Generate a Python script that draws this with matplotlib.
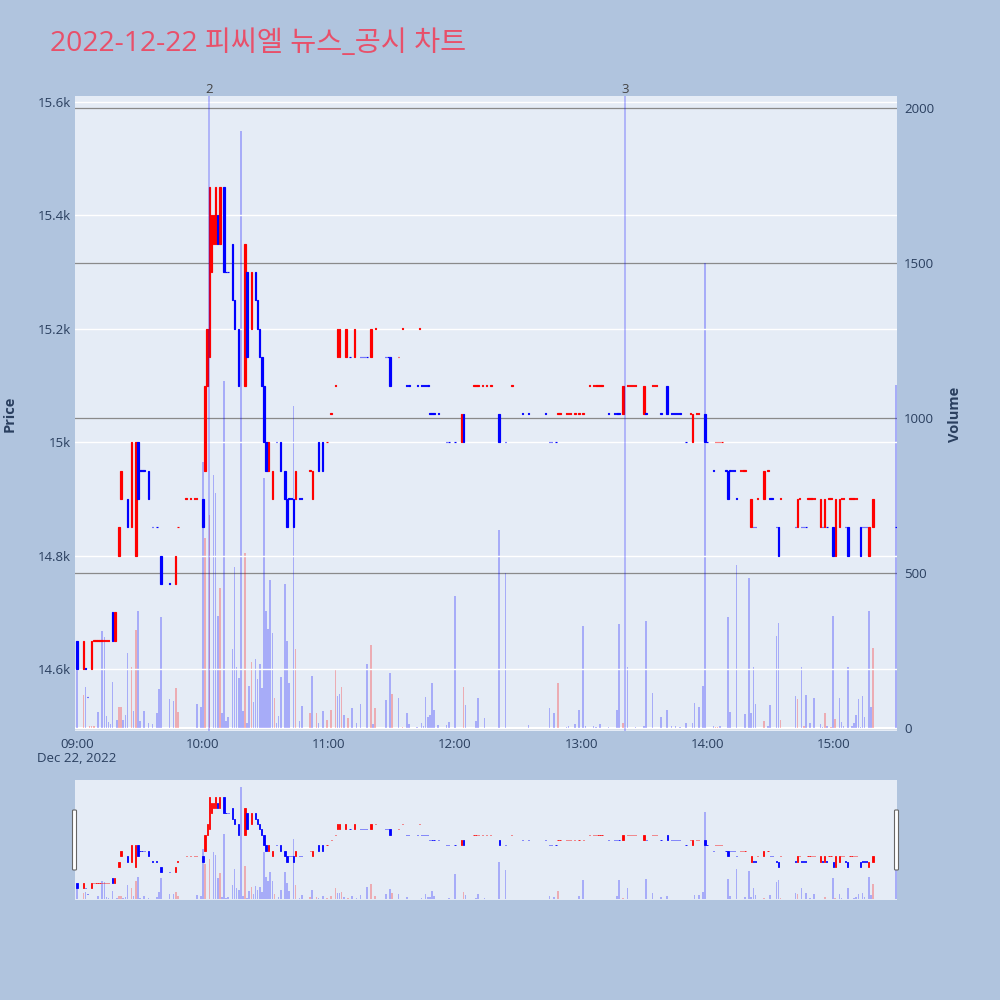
import numpy as np
import pandas as pd
import matplotlib
matplotlib.use('Agg')
import matplotlib.pyplot as plt
import matplotlib.dates as mdates
import matplotlib.transforms as mtransforms
from matplotlib.patches import FancyBboxPatch

plt.rcParams['font.family'] = ['Open Sans', 'Noto Sans CJK KR', 'DejaVu Sans']

title = '2022-12-22 피씨엘 뉴스_공시 차트'
day_start = pd.Timestamp('2022-12-22 09:00')

# one-minute candles, minutes after 09:00 (minutes with no trade are left out)
cand_min = [0, 3, 4, 5, 7, 8, 9, 10, 11, 12, 13, 14, 15, 17, 18, 20, 21, 24, 26, 28, 29, 30, 31, 32, 34, 36, 38, 40, 44, 47, 48, 52, 54, 56, 57, 60,
            61, 62, 63, 64, 65, 66, 67, 68, 70, 71, 72, 74, 75, 77, 80, 81, 83, 85, 86, 87, 88, 89, 90, 91, 93, 95, 97, 99, 100, 101, 102, 103, 104, 106, 107, 111, 112, 115, 117, 119,
            121, 123, 124, 125, 128, 130, 132, 135, 136, 137, 138, 140, 142, 147, 148, 149, 153, 155, 157, 158, 162, 163, 164, 165, 166, 167, 168, 169, 170, 172, 176, 177, 180,
            183, 184, 189, 190, 191, 193, 195, 197, 201, 204, 207, 212, 215, 223, 225, 226, 228, 229, 230, 233, 234, 235, 237, 239, 241,
            244, 246, 247, 248, 249, 250, 253, 256, 257, 258, 260, 262, 263, 264, 265, 266, 270, 271, 274, 275, 276, 278, 281, 283, 284, 285, 286, 287, 290, 292, 293, 295, 296, 299,
            300, 303, 304, 305, 306, 307, 309, 310, 311, 312, 313, 314, 316, 317, 318, 321, 322, 323, 324, 327, 329, 330, 331, 333, 334, 335, 342, 343, 344, 345, 346, 347, 348, 349, 350, 351, 354, 355, 356, 357, 358, 359,
            360, 361, 363, 364, 365, 366, 367, 368, 369, 370, 371, 373, 374, 375, 376, 377, 379, 390]
cand_open = [14650, 14600, 14600, 14550, 14600, 14650, 14650, 14650, 14650, 14650, 14650, 14650, 14650, 14700, 14650, 14800, 14900, 14900, 14850, 14800, 15000, 14950, 14950, 14950, 14950, 14850, 14850, 14800, 14750, 14750, 14850, 14900, 14900, 14900, 14900, 14900,
             14950, 15100, 15150, 15300, 15350, 15350, 15400, 15350, 15450, 15300, 15300, 15350, 15250, 15200, 15100, 15300, 15200, 15300, 15250, 15200, 15150, 15100, 15000, 14950, 14900, 15000, 15000, 14950, 14900, 14900, 14900, 14900, 14900, 14900, 14900, 14950, 14900, 15000, 15000, 15000,
             15050, 15100, 15150, 15150, 15150, 15150, 15150, 15150, 15150, 15150, 15150, 15150, 15200, 15150, 15150, 15150, 15150, 15200, 15100, 15100, 15100, 15200, 15100, 15100, 15100, 15100, 15050, 15050, 15050, 15050, 15000, 15000, 15000,
             15000, 15050, 15100, 15100, 15100, 15100, 15100, 15100, 15050, 15000, 15100, 15050, 15050, 15050, 15000, 15000, 15000, 15050, 15050, 15050, 15050, 15050, 15050, 15050, 15050,
             15100, 15100, 15100, 15100, 15100, 15100, 15050, 15050, 15050, 15050, 15050, 15100, 15100, 15100, 15100, 15100, 15050, 15050, 15100, 15100, 15100, 15050, 15100, 15050, 15050, 15050, 15050, 15050, 15000, 15050, 15000, 15050, 15050, 15050,
             15000, 14950, 15000, 15000, 15000, 15000, 14950, 14950, 14950, 14950, 14950, 14900, 14950, 14950, 14950, 14850, 14850, 14850, 14900, 14900, 14950, 14900, 14900, 14850, 14850, 14900, 14850, 14850, 14900, 14850, 14850, 14850, 14900, 14900, 14900, 14900, 14850, 14850, 14850, 14850, 14900, 14900,
             14850, 14800, 14850, 14900, 14900, 14850, 14850, 14900, 14900, 14900, 14900, 14850, 14850, 14850, 14850, 14800, 14850, 14850]
cand_close = [14600, 14650, 14600, 14550, 14650, 14650, 14650, 14650, 14650, 14650, 14650, 14650, 14650, 14650, 14700, 14850, 14950, 14850, 15000, 15000, 14900, 14950, 14950, 14950, 14900, 14850, 14850, 14750, 14750, 14800, 14850, 14900, 14900, 14900, 14900, 14850,
              15100, 15200, 15450, 15400, 15400, 15450, 15350, 15450, 15300, 15300, 15300, 15250, 15200, 15100, 15350, 15150, 15300, 15250, 15200, 15150, 15100, 15000, 14950, 15000, 14950, 15000, 14950, 14900, 14850, 14900, 14900, 14850, 14950, 14900, 14900, 14950, 14950, 14950, 14950, 15000,
              15050, 15100, 15200, 15200, 15200, 15150, 15200, 15150, 15150, 15150, 15150, 15200, 15200, 15150, 15150, 15100, 15150, 15200, 15100, 15100, 15100, 15200, 15100, 15100, 15100, 15100, 15050, 15050, 15050, 15050, 15000, 15000, 15000,
              15050, 15000, 15100, 15100, 15100, 15100, 15100, 15100, 15000, 15000, 15100, 15050, 15050, 15050, 15000, 15000, 15000, 15050, 15050, 15050, 15050, 15050, 15050, 15050, 15050,
              15100, 15100, 15100, 15100, 15100, 15100, 15050, 15050, 15050, 15050, 15100, 15100, 15100, 15100, 15100, 15100, 15100, 15050, 15100, 15100, 15100, 15050, 15050, 15050, 15050, 15050, 15050, 15050, 15000, 15050, 15050, 15050, 15050, 15000,
              15000, 14950, 15000, 15000, 15000, 15000, 14950, 14900, 14950, 14950, 14950, 14900, 14950, 14950, 14950, 14900, 14850, 14850, 14900, 14950, 14950, 14900, 14900, 14850, 14800, 14900, 14850, 14900, 14900, 14850, 14850, 14850, 14900, 14900, 14900, 14900, 14900, 14850, 14900, 14850, 14900, 14900,
              14800, 14900, 14900, 14900, 14900, 14850, 14800, 14900, 14900, 14900, 14900, 14800, 14850, 14850, 14850, 14850, 14900, 14850]
# 1 = drawn as rising (red), 0 = falling (blue)
cand_up = [0, 1, 0, 0, 1, 1, 1, 1, 1, 1, 1, 1, 1, 0, 1, 1, 1, 0, 1, 1, 0, 0, 0, 0, 0, 0, 0, 0, 0, 1, 1, 1, 1, 1, 1, 0,
           1, 1, 1, 1, 1, 1, 0, 1, 0, 0, 0, 0, 0, 0, 1, 0, 1, 0, 0, 0, 0, 0, 0, 1, 1, 0, 0, 0, 0, 0, 0, 0, 1, 0, 0, 1, 1, 0, 0, 1,
           1, 1, 1, 1, 1, 0, 1, 0, 0, 0, 0, 1, 1, 0, 0, 0, 1, 1, 0, 0, 0, 1, 0, 0, 0, 0, 0, 0, 0, 0, 0, 0, 0,
           1, 0, 1, 1, 1, 1, 1, 1, 0, 0, 1, 0, 0, 0, 0, 0, 0, 1, 1, 1, 1, 1, 1, 1, 1,
           1, 1, 1, 1, 1, 1, 0, 0, 0, 0, 1, 1, 1, 1, 1, 1, 1, 0, 1, 1, 1, 0, 0, 0, 0, 0, 0, 0, 0, 1, 1, 1, 1, 0,
           0, 0, 1, 1, 1, 1, 0, 0, 0, 0, 0, 0, 1, 1, 1, 1, 0, 0, 1, 1, 1, 0, 0, 0, 0, 1, 0, 1, 1, 0, 0, 0, 1, 1, 1, 1, 1, 0, 1, 0, 1, 1,
           0, 1, 1, 1, 1, 0, 0, 1, 1, 1, 1, 0, 0, 0, 0, 1, 1, 0]

# traded volume per minute
vol_min = [0, 3, 4, 6, 7, 8, 10, 12, 13, 14, 15, 16, 17, 19, 20, 21, 22, 23, 24, 26, 27, 28, 29, 30, 32, 34, 36, 38, 39, 40, 44, 46, 47, 48, 57, 59,
           60, 61, 63, 65, 66, 67, 68, 69, 70, 71, 72, 74, 75, 76, 77, 78, 79, 80, 81, 82, 83, 84, 85, 86, 87, 88, 89, 90, 91, 92, 93, 94, 95, 96, 97, 99, 100, 101, 103, 104, 106, 107, 111, 112, 114, 115, 117, 119,
           121, 123, 124, 125, 126, 127, 129, 131, 133, 135, 138, 140, 141, 142, 147, 149, 150, 153, 155, 157, 158, 162, 164, 165, 166, 167, 168, 169, 170, 172, 176, 177, 180,
           184, 185, 190, 191, 194, 201, 204, 215, 225, 227, 229, 233, 234, 237, 239, 241, 242,
           246, 247, 249, 253, 257, 258, 260, 262, 266, 270, 271, 274, 278, 281, 283, 285, 287, 290, 293, 294, 296, 298, 299,
           303, 304, 305, 306, 310, 311, 314, 318, 320, 321, 322, 323, 327, 329, 330, 333, 334, 335, 342, 343, 345, 346, 347, 349, 351, 354, 355, 356, 357, 359,
           360, 361, 363, 364, 365, 367, 369, 370, 371, 372, 373, 374, 375, 377, 378, 379, 390]
vol_size = [187, 107, 133, 7, 7, 7, 53, 314, 294, 40, 20, 13, 147, 27, 67, 67, 27, 43, 243, 196, 56, 316, 376, 24, 56, 17, 13, 47, 125, 358, 93, 87, 130, 53, 77, 67,
            859, 612, 687, 816, 757, 361, 450, 49, 1119, 24, 37, 254, 518, 198, 162, 1926, 56, 565, 17, 137, 214, 85, 224, 157, 205, 130, 805, 378, 320, 476, 307, 98, 15, 39, 163, 464, 280, 146, 1040, 254, 24, 71, 47, 168, 47, 17, 55, 26,
            58, 187, 103, 110, 133, 42, 31, 63, 17, 78, 206, 268, 13, 66, 90, 178, 109, 97, 4, 49, 13, 4, 16, 6, 99, 35, 43, 146, 57, 9, 11, 18, 427,
            133, 74, 24, 98, 32, 638, 499, 9, 63, 47, 146, 3, 8, 13, 57, 329, 8,
            5, 3, 13, 3, 57, 335, 17, 196, 3, 8, 344, 114, 35, 58, 8, 8, 3, 15, 15, 80, 68, 135, 1500,
            8, 4, 4, 5, 357, 52, 527, 44, 484, 47, 196, 78, 21, 8, 74, 297, 340, 26, 103, 94, 196, 8, 106, 17, 97, 13, 4, 47, 5, 3,
            361, 29, 97, 19, 5, 196, 5, 17, 42, 92, 3, 103, 35, 378, 68, 257, 1106]
vol_up = [0, 1, 0, 1, 1, 1, 0, 0, 0, 0, 0, 0, 0, 0, 1, 1, 0, 0, 0, 1, 0, 1, 0, 0, 0, 0, 0, 0, 0, 0, 0, 0, 1, 1, 0, 0,
          0, 1, 1, 0, 0, 0, 1, 0, 0, 0, 0, 0, 0, 0, 0, 0, 0, 1, 0, 0, 1, 0, 0, 0, 0, 0, 0, 0, 0, 0, 0, 1, 0, 0, 0, 0, 0, 0, 0, 1, 0, 0, 1, 0, 1, 0, 0, 1,
          1, 1, 0, 0, 1, 0, 1, 0, 0, 0, 0, 1, 0, 1, 0, 0, 1, 0, 1, 0, 0, 0, 0, 0, 0, 0, 0, 0, 0, 0, 0, 0, 0,
          1, 0, 0, 0, 0, 0, 0, 0, 0, 0, 1, 0, 0, 0, 0, 0, 0,
          0, 0, 0, 0, 0, 0, 1, 0, 0, 0, 0, 0, 0, 0, 0, 0, 0, 0, 0, 0, 0, 0, 0,
          0, 1, 1, 0, 0, 0, 0, 0, 0, 0, 0, 0, 1, 0, 0, 0, 0, 1, 0, 1, 0, 1, 0, 0, 0, 0, 0, 1, 0, 1,
          0, 1, 0, 0, 0, 0, 0, 0, 0, 0, 0, 0, 0, 0, 0, 1, 0]

# news / disclosure markers
news_min = [63, 261]
news_label = ['2', '3']

price_ticks = [14600, 14800, 15000, 15200, 15400, 15600]
price_labels = ['14.6k', '14.8k', '15k', '15.2k', '15.4k', '15.6k']
vol_ticks = [0, 500, 1000, 1500, 2000]

assert len(cand_min) == len(cand_open) == len(cand_close) == len(cand_up)
assert len(vol_min) == len(vol_size) == len(vol_up)

UP, DOWN = '#FF0000', '#0000FF'
BG, PLOT_BG = '#B0C4DE', '#E5ECF6'
TXT = '#2A3F5F'
MIN = 1 / 1440.0


def to_time(mins):
    return day_start + pd.to_timedelta(np.asarray(mins), unit='min')


def draw_candles(ax, lw, width):
    t = to_time(cand_min)
    o = np.array(cand_open, float)
    c = np.array(cand_close, float)
    up = np.array(cand_up, bool)
    lo = np.minimum(o, c)
    h = np.maximum(np.abs(c - o), 1.0)
    for mask, col in ((up, UP), (~up, DOWN)):
        ax.bar(t[mask], h[mask], bottom=lo[mask], width=width * MIN,
               color=col, edgecolor=col, linewidth=lw, zorder=3)


def draw_volume(ax):
    t = to_time(vol_min)
    cols = np.where(np.array(vol_up, bool), UP, DOWN)
    ax.bar(t, vol_size, width=0.75 * MIN, color=cols, alpha=0.27, linewidth=0, zorder=2)


x_lo = day_start + pd.Timedelta(minutes=-0.95)
x_hi = day_start + pd.Timedelta(minutes=390.4)
p_lim = (14490.7, 15610.6)
v_lim = (-9.7, 2038.7)

fig = plt.figure(figsize=(10, 10), dpi=100)
fig.patch.set_facecolor(BG)

# ---- main chart
rect = [0.075, 0.269, 0.822, 0.635]
axv = fig.add_axes(rect)
axv.set_facecolor(PLOT_BG)
ax = fig.add_axes(rect, sharex=axv)
ax.patch.set_visible(False)

draw_volume(axv)
axv.set_ylim(*v_lim)
axv.set_yticks(vol_ticks)
axv.yaxis.tick_right()
axv.yaxis.set_label_position('right')
axv.grid(axis='y', color='#8A8A8A', linewidth=0.9)
axv.axhline(0, color='white', linewidth=1.5, zorder=1)
axv.set_axisbelow(True)

draw_candles(ax, 0.85, 0.7)
ax.set_ylim(*p_lim)
ax.set_yticks(price_ticks)
ax.set_yticklabels(price_labels)
ax.grid(axis='y', color='white', linewidth=1.0)
ax.set_axisbelow(True)

for m, lab in zip(news_min, news_label):
    tm = to_time([m])[0]
    ax.axvline(tm, color=(0, 0, 1, 0.3), linewidth=1.1, zorder=5)
    ax.text(tm, 1.0, lab, transform=mtransforms.blended_transform_factory(ax.transData, ax.transAxes),
            ha='center', va='bottom', fontsize=9.5, color='#444444')

ax.set_xlim(x_lo, x_hi)
ax.xaxis.set_major_locator(mdates.HourLocator())
ax.xaxis.set_major_formatter(mdates.DateFormatter('%H:%M'))
for a in (ax, axv):
    for s in a.spines.values():
        s.set_visible(False)
    a.tick_params(length=0, labelsize=9.5, colors=TXT)
ax.tick_params(axis='y', pad=3)
axv.tick_params(axis='y', pad=5, labelleft=False, labelright=True)
axv.tick_params(axis='x', labelbottom=False)
ax.tick_params(axis='x', pad=5)

fig.text(0.077, 0.242, 'Dec 22, 2022', ha='center', va='center', fontsize=9.5, color=TXT)
fig.text(0.010, 0.586, 'Price', rotation=90, ha='center', va='center',
         fontsize=10.5, fontweight='bold', color=TXT)
fig.text(0.955, 0.586, 'Volume', rotation=90, ha='center', va='center',
         fontsize=10.5, fontweight='bold', color=TXT)

# ---- range slider
srect = [0.075, 0.100, 0.822, 0.120]
sv = fig.add_axes(srect)
sv.set_facecolor(PLOT_BG)
sp = fig.add_axes(srect, sharex=sv)
sp.patch.set_visible(False)
draw_volume(sv)
draw_candles(sp, 0.6, 0.6)
sv.set_ylim(*v_lim)
sp.set_ylim(*p_lim)
sp.set_xlim(x_lo, x_hi)
for a in (sv, sp):
    a.set_xticks([])
    a.set_yticks([])
    for s in a.spines.values():
        s.set_visible(False)

for hx in (0.0725, 0.8945):
    fig.patches.append(FancyBboxPatch((hx, 0.130), 0.004, 0.060, boxstyle='round,pad=0,rounding_size=0.001',
                                      transform=fig.transFigure, facecolor='white', edgecolor='#666666',
                                      linewidth=0.8))

fig.text(0.050, 0.949, title, ha='left', va='baseline', fontsize=20.4, color='#E8506A')

fig.savefig('out.png', dpi=100, facecolor=BG)
